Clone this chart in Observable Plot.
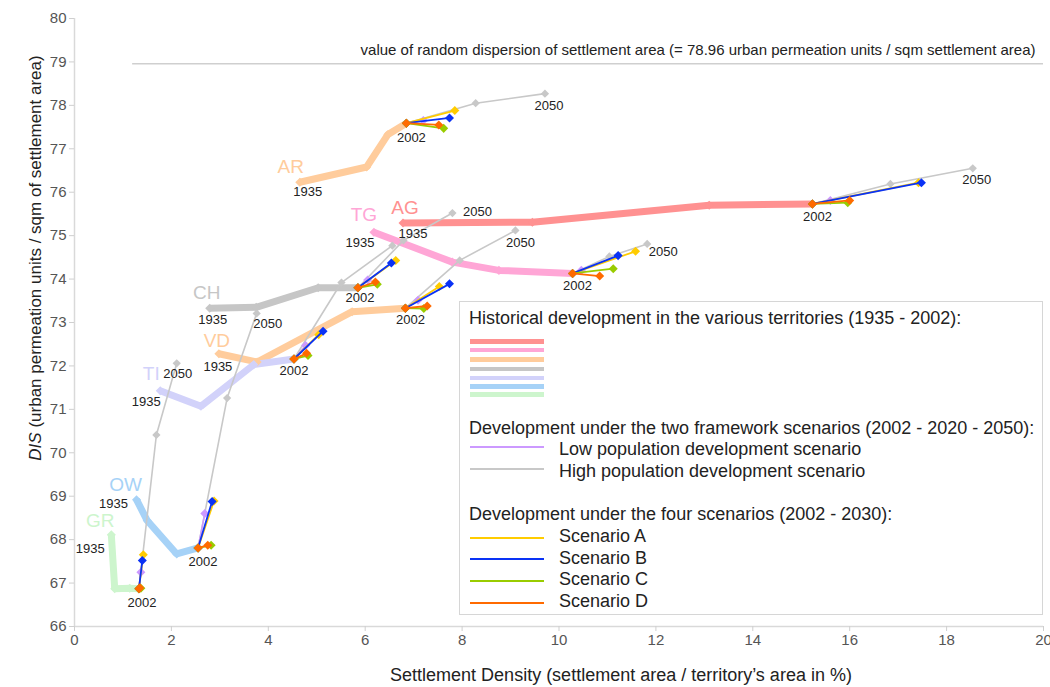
<!DOCTYPE html>
<html><head><meta charset="utf-8">
<script src="https://cdn.jsdelivr.net/npm/d3@7"></script>
<script src="https://cdn.jsdelivr.net/npm/@observablehq/plot@0.6"></script>
<style>
html,body{margin:0;padding:0;background:#fff;}
#wrap{position:relative;width:1050px;height:687px;font-family:"Liberation Sans",Arial,sans-serif;}
#legend{position:absolute;left:459px;top:301px;width:584px;height:314px;border:1.5px solid #d6d6d6;box-sizing:border-box;background:#fff;color:#222;font-size:18px;}
#legend .t{position:absolute;left:9px;white-space:nowrap;line-height:1;transform:translateY(-50%);}
#legend .sw{position:absolute;left:10px;width:74px;}
#legend .lab{position:absolute;left:99px;white-space:nowrap;line-height:1;transform:translateY(-50%);}
</style></head><body><div id="wrap"></div>
<script>
// ---------------- data ----------------
const territories = ["AG","TG","AR","CH","VD","TI","OW","GR"];
const terrColors  = ["#ff9191","#ffa6d6","#ffcc9c","#c6c6c6","#ffcc9c","#d2d2fa","#a6d2f7","#cdf5cd"];

// historical development 1935 ... 2002 (4 points per territory)
const histX = [
  [6.78, 9.45, 13.10, 15.23],
  [6.18, 7.80, 8.76, 10.28],
  [4.65, 6.03, 6.47, 6.85],
  [2.79, 3.75, 5.03, 5.85],
  [2.98, 3.77, 5.73, 6.83],
  [1.77, 2.61, 3.70, 4.53],
  [1.28, 1.50, 2.11, 2.55],
  [0.76, 0.83, 1.14, 1.33]
];
const histY = [
  [75.29, 75.31, 75.70, 75.73],
  [75.08, 74.39, 74.20, 74.13],
  [76.23, 76.58, 77.33, 77.59],
  [73.33, 73.35, 73.80, 73.80],
  [72.28, 72.09, 73.25, 73.33],
  [71.43, 71.07, 72.03, 72.16],
  [68.92, 68.44, 67.67, 67.81],
  [68.11, 66.87, 66.88, 66.87]
];

// high population scenario: 2020, 2050
const highX = [[16.84,18.54],[11.04,11.82],[8.28,9.71],[6.79,7.80],[7.95,9.10],[5.51,6.56],[3.15,3.76],[1.69,2.11]];
const highY = [[76.19,76.55],[74.52,74.81],[78.05,78.27],[74.89,75.52],[74.43,75.12],[73.92,74.77],[71.26,73.21],[70.41,72.06]];

// low population scenario
const lowX = [15.60, 10.46, 7.20, 6.05, 7.09, 4.77, 2.69, 1.37];
const lowY = [75.81, 74.20, 77.65, 73.98, 73.51, 72.47, 68.60, 67.25];

// four scenarios, 2030 end points
const scenarios = ["A","B","C","D"];
const scenColors = ["#ffcc00","#0a32f5","#99cc00","#ff6a00"];
const scenAX = [17.42, 11.58, 7.85, 6.63, 7.53, 5.04, 2.88, 1.42];
const scenAY = [76.22, 74.64, 77.88, 74.43, 73.83, 72.72, 68.89, 67.65];
const scenBX = [17.48, 11.22, 7.74, 6.54, 7.74, 5.13, 2.84, 1.40];
const scenBY = [76.22, 74.54, 77.71, 74.37, 73.89, 72.80, 68.88, 67.52];
const scenCX = [15.96, 11.12, 7.62, 6.25, 7.21, 4.82, 2.82, 1.37];
const scenCY = [75.76, 74.24, 77.47, 73.88, 73.32, 72.24, 67.87, 66.88];
const scenDX = [16.00, 10.84, 7.52, 6.21, 7.28, 4.79, 2.75, 1.35];
const scenDY = [75.81, 74.07, 77.55, 73.93, 73.38, 72.29, 67.87, 66.89];

const startYear = "1935", baseYear = "2002", endYear = "2050";
const hasEndLabel = [true, true, true, true, true, false, true, true];

const refValue = 78.96, refStartX = 1.2;
const refText = "value of random dispersion of settlement area (= 78.96 urban permeation units / sqm settlement area)";

const xTicks = [0,2,4,6,8,10,12,14,16,18,20];
const yTicks = [66,67,68,69,70,71,72,73,74,75,76,77,78,79,80];
const xTitle = "Settlement Density (settlement area / territory\u2019s area in %)";
const yTitleItalic = "DIS", yTitleRest = " (urban permeation units / sqm of settlement area)";

const legendHeads = ["Historical development in the various territories (1935 - 2002):",
  "Development under the two framework scenarios (2002 - 2020 - 2050):",
  "Development under the four scenarios (2002 - 2030):"];
const legendHistColors = ["#ff9191","#ffa6d6","#ffcc9c","#c6c6c6","#d2d2fa","#a6d2f7","#cdf5cd"];
const legendPop = ["Low population development scenario","High population development scenario"];
const popColors = ["#cc99ff","#c8c8c8"];
const legendScen = ["Scenario A","Scenario B","Scenario C","Scenario D"];

// ---------------- layout (label offsets, px) ----------------
const nameOff  = [[2,-15],[-10,-17],[-9,-15],[-3,-15],[-2,-13],[-9,-17],[-11,-15],[-11,-14]];
const startOff = [[10,11],[-14,11],[8,10],[3,12],[-1,13],[-14,11],[-23,4],[-21,14]];
const baseOff  = [[5,13],[5,12],[5,15],[2,10],[5,12],[0,12],[5,14],[3,14]];
const endOff   = [[4,11],[16,8],[4,12],[25,-1],[5,12],[0,12],[11,10],[1,11]];

// ---------------- tables ----------------
const last = a => a[a.length-1];
const hist = territories.flatMap((t,i)=>histX[i].map((x,j)=>({t,x,y:histY[i][j],c:terrColors[i]})));
const high = territories.flatMap((t,i)=>[{t,x:last(histX[i]),y:last(histY[i]),k:0},
  ...highX[i].map((x,j)=>({t,x,y:highY[i][j],k:j+1}))]);
const low = territories.flatMap((t,i)=>[{t,x:last(histX[i]),y:last(histY[i]),k:0},{t,x:lowX[i],y:lowY[i],k:1}]);
const scenEnds = [[scenAX,scenAY],[scenBX,scenBY],[scenCX,scenCY],[scenDX,scenDY]];
const scen = scenarios.map((s,si)=>territories.flatMap((t,i)=>[
  {t,x:last(histX[i]),y:last(histY[i])},{t,x:scenEnds[si][0][i],y:scenEnds[si][1][i]}]));

const diamond = {draw(ctx,size){const r=Math.sqrt(size/2);ctx.moveTo(0,-r);ctx.lineTo(r,0);ctx.lineTo(0,r);ctx.lineTo(-r,0);ctx.closePath();}};

function label(text,x,y,off,opts){
  return Plot.text([text],{x:()=>x,y:()=>y,text:d=>d,dx:off[0],dy:off[1],...opts});
}

const marks = [
  Plot.ruleX([0],{stroke:"#d9d9d9",strokeWidth:1.5}),
  Plot.ruleY([66],{stroke:"#d9d9d9",strokeWidth:1.5}),
  Plot.axisX({ticks:xTicks,tickSize:5,tickPadding:3,stroke:"#cfcfcf",fill:"#555",fontSize:15,label:null,tickFormat:d=>String(d)}),
  Plot.axisY({ticks:yTicks,tickSize:5,tickPadding:3,stroke:"#cfcfcf",fill:"#555",fontSize:15,label:null,tickFormat:d=>String(d)}),
  Plot.ruleY([refValue],{x1:refStartX,x2:20,stroke:"#cfcfcf",strokeWidth:1.5}),
  Plot.text([refText],{x:20,y:refValue,text:d=>d,textAnchor:"end",dx:-8,dy:-13,fontSize:15,fill:"#222"}),
  Plot.line(hist,{x:"x",y:"y",z:"t",stroke:"c",strokeWidth:7,strokeLinejoin:"miter",strokeLinecap:"butt"}),
  Plot.dot(hist,{x:"x",y:"y",fill:"c",symbol:diamond,r:3.6}),
  Plot.line(high,{x:"x",y:"y",z:"t",stroke:popColors[1],strokeWidth:1.6}),
  Plot.dot(high.filter(d=>d.k>0),{x:"x",y:"y",fill:popColors[1],symbol:diamond,r:3.3}),
  Plot.line(low,{x:"x",y:"y",z:"t",stroke:popColors[0],strokeWidth:1.6}),
  Plot.dot(low.filter(d=>d.k>0),{x:"x",y:"y",fill:popColors[0],symbol:diamond,r:3.6}),
  ...scenarios.flatMap((s,si)=>[
    Plot.line(scen[si],{x:"x",y:"y",z:"t",stroke:scenColors[si],strokeWidth:1.8}),
    Plot.dot(scen[si],{x:"x",y:"y",fill:scenColors[si],symbol:diamond,r:3.6})
  ]),
  ...territories.flatMap((t,i)=>{
    const out=[
      label(t,histX[i][0],histY[i][0],nameOff[i],{fill:terrColors[i],fontSize:19}),
      label(startYear,histX[i][0],histY[i][0],startOff[i],{fill:"#222",fontSize:13}),
      label(baseYear,last(histX[i]),last(histY[i]),baseOff[i],{fill:"#222",fontSize:13})
    ];
    if(hasEndLabel[i]) out.push(label(endYear,highX[i][1],highY[i][1],endOff[i],{fill:"#222",fontSize:13}));
    return out;
  })
];

const plot = Plot.plot({
  width:1050,height:687,
  marginTop:18,marginRight:7,marginBottom:61,marginLeft:74,
  x:{domain:[0,20]},
  y:{domain:[66,80]},
  color:{type:"identity"},
  style:{fontFamily:"'Liberation Sans', Arial, sans-serif",background:"#fff",overflow:"visible"},
  marks
});
const wrap=document.getElementById("wrap");
wrap.appendChild(plot);

const svg=d3.select(plot);
svg.append("text").attr("x",621).attr("y",676).attr("text-anchor","middle").attr("dominant-baseline","middle")
  .attr("font-size",18).attr("fill","#222").text(xTitle);
const yt=svg.append("text").attr("transform","translate(37,258) rotate(-90)").attr("text-anchor","middle")
  .attr("dominant-baseline","middle").attr("font-size",17).attr("fill","#222");
yt.append("tspan").attr("font-style","italic").text(yTitleItalic);
yt.append("tspan").text(yTitleRest);

// legend
const lg=document.createElement("div");lg.id="legend";wrap.appendChild(lg);
function add(cls,top,html,extra){const d=document.createElement("div");d.className=cls;d.style.top=top+"px";if(html)d.textContent=html;if(extra)Object.assign(d.style,extra);lg.appendChild(d);}
add("t",16.3,legendHeads[0]);
const histSwY=[39.3,48,57.7,67,76,84.3,92.7];
legendHistColors.forEach((c,i)=>add("sw",histSwY[i]-2.25,null,{height:"4.5px",background:c}));
add("t",125.7,legendHeads[1]);
const popY=[147.3,169];
legendPop.forEach((s,i)=>{add("sw",popY[i]-3,null,{height:"2px",background:popColors[i]});add("lab",popY[i],s);});
add("t",212.3,legendHeads[2]);
const scY=[234,255.7,277.3,299];
legendScen.forEach((s,i)=>{add("sw",scY[i]+0.5,null,{height:"2px",background:scenColors[i]});add("lab",scY[i],s);});
</script></body></html>
